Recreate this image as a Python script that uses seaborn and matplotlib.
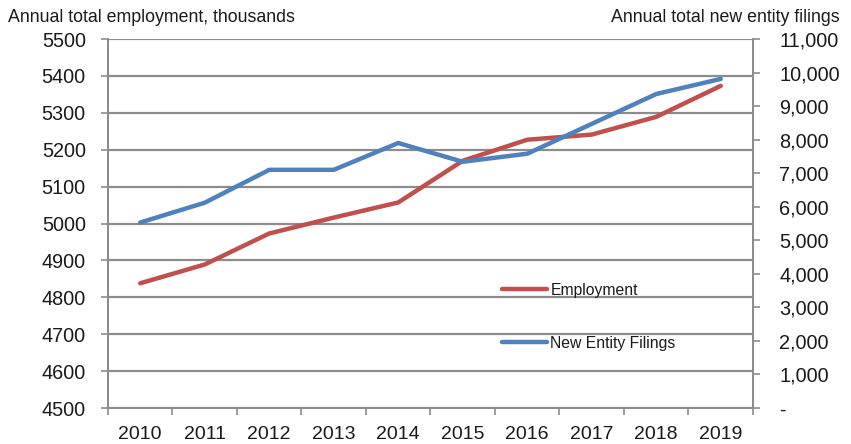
import numpy as np
import pandas as pd
import matplotlib
matplotlib.use("Agg")
import matplotlib.pyplot as plt
import seaborn as sns
from matplotlib.ticker import FuncFormatter

years = [2010, 2011, 2012, 2013, 2014, 2015, 2016, 2017, 2018, 2019]
employment = [4838, 4889, 4973, 5016, 5057, 5170, 5227, 5241, 5289, 5373]
filings = [5530, 6120, 7100, 7100, 7900, 7340, 7580, 8470, 9360, 9810]

sns.set_theme(style="white")
plt.rcParams['font.family'] = ['Liberation Sans', 'DejaVu Sans']

red = "#C0504D"
blue = "#4F81BD"
grid_c = "#8C8C8C"
txt_c = "#1a1a1a"

fig = plt.figure(figsize=(8.51, 4.44), dpi=100)
ax = fig.add_axes([108/851, 1-408/444, (753-108)/851, (408-39)/444])
ax2 = ax.twinx()

df = pd.DataFrame({"year": years, "Employment": employment, "New Entity Filings": filings})

sns.lineplot(data=df, x="year", y="Employment", ax=ax, color=red, linewidth=3.2, label="Employment", legend=False)
sns.lineplot(data=df, x="year", y="New Entity Filings", ax=ax2, color=blue, linewidth=3.2, label="New Entity Filings", legend=False)

ax.set_xlim(years[0]-0.5, years[-1]+0.5)
ax.set_ylim(4500, 5500)
ax.set_yticks(np.arange(4500, 5501, 100))
ax2.set_ylim(0, 11000)
ax2.set_yticks(np.arange(0, 11001, 1000))
ax2.yaxis.set_major_formatter(FuncFormatter(lambda v, p: "-" if v == 0 else f"{int(v):,}"))

ax.set_xticks(years)
ax.set_xticklabels([str(y) for y in years], fontsize=14, color=txt_c)
ax.set_xticks([y - 0.5 for y in years] + [years[-1] + 0.5], minor=True)
ax.tick_params(axis='x', which='major', length=0, pad=13)
ax.tick_params(axis='x', which='minor', length=5, width=1.2, color=grid_c, direction='out', bottom=True)
ax.tick_params(axis='y', length=5, width=1.2, color=grid_c, direction='out', left=True,
               labelsize=14.3, pad=11, labelcolor=txt_c)
ax2.tick_params(axis='y', length=5, width=1.2, color=grid_c, direction='out', right=True,
                labelsize=14.3, pad=14, labelcolor=txt_c)

ax.grid(True, axis='y', color=grid_c, linewidth=1.6)
ax.grid(False, axis='x')
ax2.grid(False)
ax.set_xlabel("")
ax.set_ylabel("")
ax2.set_ylabel("")

for a in (ax, ax2):
    a.spines['top'].set_visible(False)
    for s in ('left', 'right', 'bottom'):
        a.spines[s].set_color(grid_c)
        a.spines[s].set_linewidth(1.4)

fig.text(8/851, 1-22/444, "Annual total employment, thousands", fontsize=12.8, ha='left', va='baseline', color=txt_c)
fig.text(840/851, 1-22/444, "Annual total new entity filings", fontsize=12.8, ha='right', va='baseline', color=txt_c)

handles = [ax.lines[0], ax2.lines[0]]
leg = fig.legend(handles, ["Employment", "New Entity Filings"], loc='upper left',
                 bbox_to_anchor=(494/851, 1-275/444), frameon=False, fontsize=11.3,
                 handlelength=2.9, handletextpad=0.2, labelspacing=2.4, borderpad=0)
for t in leg.get_texts():
    t.set_color(txt_c)

fig.savefig("out.png", dpi=100)
